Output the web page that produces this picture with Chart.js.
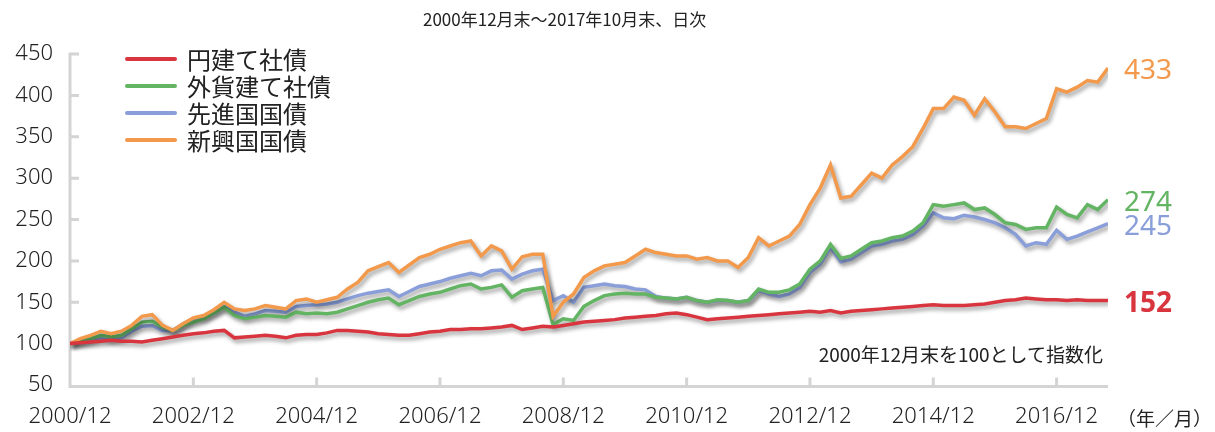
<!DOCTYPE html>
<html lang="ja">
<head>
<meta charset="UTF-8">
<title>円建て社債・外貨建て社債・先進国国債・新興国国債の推移</title>
<script src="https://cdn.jsdelivr.net/npm/chart.js"></script>
<style>
  body { margin: 0; background: #fff; font-family: "Noto Sans CJK JP", sans-serif; color: #222; }
  .wrap { position: relative; width: 1215px; height: 432px; overflow: hidden; }
  canvas { position: absolute; left: 0; top: 0; }
  .title { position: absolute; left: 423px; top: 6px; font-size: 17px; white-space: nowrap; }
  .legend { position: absolute; left: 125px; top: 45px; }
  .legend div { height: 27px; font-size: 24px; display: flex; align-items: center; white-space: nowrap; }
  .legend .sw { display: inline-block; width: 52px; height: 4px; border-radius: 2px; margin-right: 10px; }
  .note { position: absolute; right: 112px; top: 340px; font-size: 19px; white-space: nowrap; }
  .unit { position: absolute; left: 1117px; top: 404px; font-size: 19px; white-space: nowrap; }
  .endlab { position: absolute; left: 1124px; top: 0; font-family: "Noto Sans", sans-serif; font-size: 28px; transform: translateY(-50%); line-height: 1; }
</style>
</head>
<body>
<div class="wrap">
  <canvas id="chart" width="1215" height="432"></canvas>
  <div class="title">2000年12月末～2017年10月末、日次</div>
  <div class="legend" id="legend"></div>
  <div class="note">2000年12月末を100として指数化</div>
  <div class="unit">（年／月）</div>
</div>

<script>
// 2か月ごとの値（2000/12 〜 2017/10）
const xTickLabels = ['2000/12', '2002/12', '2004/12', '2006/12', '2008/12', '2010/12', '2012/12', '2014/12', '2016/12'];

const yenCorp = [
  100,101,102,103,104,103,103,102,104,106,108,110,
  112,113,115,116,107,108,109,110,109,107,110,111,
  111,113,116,116,115,114,112,111,110,110,112,114,
  115,117,117,118,118,119,120,122,117,119,121,120,
  122,124,126,127,128,129,131,132,133,134,136,137,
  135,132,129,130,131,132,133,134,135,136,137,138,
  139,138,140,137,139,140,141,142,143,144,145,146,
  147,146,146,146,147,148,150,152,153,155,154,153,
  153,152,153,152,152,152
];
const fxCorp = [
  100,103,106,110,108,110,118,126,127,120,116,122,
  126,130,137,144,134,130,132,134,133,132,138,136,
  137,136,138,142,146,150,153,155,147,152,157,160,
  162,166,170,172,166,168,171,156,164,166,168,123,
  130,128,145,152,158,160,161,160,160,156,155,154,
  156,152,150,153,152,150,152,166,162,162,165,172,
  190,200,220,203,206,214,222,224,228,230,236,246,
  268,266,268,270,262,264,256,246,244,238,240,240,
  265,256,252,268,262,274
];
const devGov = [
  100,102,104,107,105,107,115,121,122,116,116,124,
  130,132,138,145,138,133,136,140,139,138,145,146,
  147,148,150,154,158,161,163,165,157,163,169,172,
  175,179,182,185,182,188,189,178,184,188,190,152,
  158,150,168,170,172,170,169,166,165,157,155,154,
  156,152,150,152,152,150,152,164,160,157,160,168,
  186,196,216,199,202,210,218,220,224,226,232,242,
  258,252,251,255,253,250,246,240,232,218,222,220,
  237,226,230,235,240,245
];
const emGov = [
  100,106,110,115,112,115,122,133,135,122,116,124,
  131,134,141,150,142,140,142,146,144,142,152,154,
  150,153,156,166,174,188,193,198,186,195,204,208,
  214,218,222,224,206,218,212,190,205,208,208,133,
  150,160,180,188,194,196,198,206,214,210,208,206,
  206,202,204,200,200,192,204,228,218,224,230,244,
  268,288,316,276,278,292,306,300,316,326,338,360,
  384,384,398,394,376,396,380,362,362,360,366,372,
  408,404,410,418,416,433
];

const seriesNames = ['円建て社債', '外貨建て社債', '先進国国債', '新興国国債'];
const seriesColors = ['#d8353f', '#63b463', '#8a9fd9', '#f2994b'];
const seriesData = [yenCorp, fxCorp, devGov, emGov];
const drawOrder = [0, 2, 3, 1]; // 赤が一番上
const endLabelBold = [true, false, false, false];

const datasets = seriesNames.map((name, k) => ({
  label: name,
  data: seriesData[k].map((v, i) => ({ x: i * 2, y: v })),
  borderColor: seriesColors[k],
  backgroundColor: seriesColors[k],
  borderWidth: 3.5,
  pointRadius: 0,
  tension: 0,
  order: drawOrder[k]
}));

// 凡例
const legendBox = document.getElementById('legend');
seriesNames.forEach((name, k) => {
  const row = document.createElement('div');
  row.innerHTML = '<span class="sw" style="background:' + seriesColors[k] + '"></span>' + name;
  legendBox.appendChild(row);
});

// 右端の値ラベル
const wrap = document.querySelector('.wrap');
const endLabels = seriesData.map((arr, k) => {
  const el = document.createElement('div');
  el.className = 'endlab';
  el.textContent = arr[arr.length - 1];
  el.style.color = seriesColors[k];
  if (endLabelBold[k]) el.style.fontWeight = 'bold';
  wrap.appendChild(el);
  return el;
});

const shadowPlugin = {
  id: 'lineShadow',
  beforeDatasetsDraw(chart) {
    const c = chart.ctx;
    c.save();
    c.shadowColor = 'rgba(0,0,0,0.4)';
    c.shadowBlur = 4;
    c.shadowOffsetX = 2;
    c.shadowOffsetY = 3;
  },
  afterDatasetsDraw(chart) {
    chart.ctx.restore();
  }
};

const axisPlugin = {
  id: 'axisLines',
  beforeDatasetsDraw(chart) {
    const { ctx, chartArea: a, scales } = chart;
    ctx.save();
    ctx.strokeStyle = '#d4d4d4';
    ctx.lineWidth = 3;
    const bottom = a.bottom + 1.5;
    ctx.beginPath();
    ctx.moveTo(a.left, scales.y.getPixelForValue(450) - 1.5);
    ctx.lineTo(a.left, bottom + 1.5);
    ctx.moveTo(a.left - 1.5, bottom);
    ctx.lineTo(a.right, bottom);
    scales.y.ticks.forEach(t => {
      const py = scales.y.getPixelForValue(t.value);
      if (t.value > 50) {
        ctx.moveTo(a.left, py);
        ctx.lineTo(a.left + 9, py);
      }
    });
    scales.x.ticks.forEach(t => {
      if (t.value > 0) {
        const px = scales.x.getPixelForValue(t.value);
        ctx.moveTo(px, bottom);
        ctx.lineTo(px, bottom - 9);
      }
    });
    ctx.stroke();
    ctx.restore();
  },
  afterDraw(chart) {
    seriesData.forEach((arr, k) => {
      endLabels[k].style.top = chart.scales.y.getPixelForValue(arr[arr.length - 1]) + 'px';
    });
  }
};

const tickFont = { family: '"Noto Sans", sans-serif', size: 22, weight: 300 };

new Chart(document.getElementById('chart'), {
  type: 'line',
  data: { datasets: datasets },
  options: {
    responsive: false,
    animation: false,
    layout: { padding: { top: 54, right: 107, left: 0, bottom: 0 } },
    plugins: { legend: { display: false }, tooltip: { enabled: false } },
    scales: {
      x: {
        type: 'linear',
        min: 0,
        max: 202,
        afterBuildTicks(scale) {
          scale.ticks = xTickLabels.map((s, i) => ({ value: i * 24 }));
        },
        afterFit(scale) { scale.height = 47; },
        ticks: {
          autoSkip: false,
          maxRotation: 0,
          padding: 19,
          color: '#222',
          font: tickFont,
          callback: (v) => xTickLabels[v / 24]
        },
        grid: { display: false, drawTicks: false },
        border: { display: false }
      },
      y: {
        min: 50,
        max: 450,
        afterFit(scale) { scale.width = 70; },
        ticks: { stepSize: 50, padding: 17, color: '#222', font: tickFont },
        grid: { display: false, drawTicks: false },
        border: { display: false }
      }
    }
  },
  plugins: [axisPlugin, shadowPlugin]
});
</script>
</body>
</html>
